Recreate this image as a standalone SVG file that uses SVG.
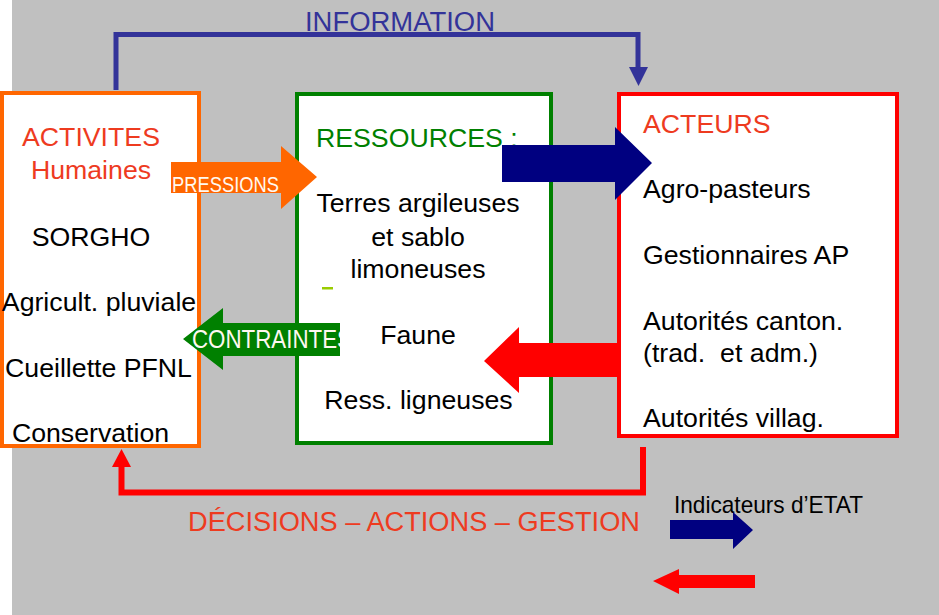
<svg xmlns="http://www.w3.org/2000/svg" width="939" height="615" viewBox="0 0 939 615">
<style>
text{font-family:"Liberation Sans",Arial,sans-serif;font-size:26.7px;fill:#000}
.red{fill:#ee3b1f}
.grn{fill:#008000}
.mid{text-anchor:middle}
.wht{fill:#fff8f0}
.box{fill:#fff;stroke-width:4}
</style>
<defs>
<clipPath id="cc"><rect x="180" y="300" width="160" height="80"/></clipPath>
</defs>
<rect x="0" y="0" width="939" height="615" fill="#fff"/>
<rect x="12" y="0" width="927" height="615" fill="#c0c0c0"/>

<g id="activites">
<rect class="box" x="2" y="93" width="197" height="353" stroke="#ff6600"/>
<text class="red mid" x="91" y="146">ACTIVITES</text>
<text class="red mid" x="91" y="179">Humaines</text>
<text class="mid" x="91" y="246">SORGHO</text>
<text class="mid" x="99" y="311">Agricult. pluviale</text>
<text class="mid" x="98.5" y="377">Cueillette PFNL</text>
<text class="mid" x="90.5" y="442">Conservation</text>
</g>

<g id="ressources">
<rect class="box" x="297" y="94" width="254" height="349" stroke="#008000"/>
<text class="grn" x="316" y="147">RESSOURCES :</text>
<text class="mid" x="418" y="212">Terres argileuses</text>
<text class="mid" x="418" y="246">et sablo</text>
<text class="mid" x="418" y="278">limoneuses</text>
<rect x="322" y="287" width="11" height="2.5" fill="#99cc00"/>
<text class="mid" x="418" y="344">Faune</text>
<text class="mid" x="418.5" y="409">Ress. ligneuses</text>
</g>

<g id="acteurs">
<rect class="box" x="619" y="94" width="278" height="342" stroke="#ff0000"/>
<text class="red" x="643" y="133">ACTEURS</text>
<text x="643" y="198">Agro-pasteurs</text>
<text x="643" y="264">Gestionnaires AP</text>
<text x="643" y="330">Autorités canton.</text>
<text x="643" y="362" xml:space="preserve">(trad.  et adm.)</text>
<text x="643" y="427">Autorités villag.</text>
</g>

<g id="connectors">
<path d="M116,90 V34.5 H638 V70" fill="none" stroke="#333399" stroke-width="5"/>
<polygon points="629,67 648,67 638.5,86" fill="#333399"/>
<text x="305" y="31" fill="#333399" style="fill:#333399;font-size:27px" textLength="190" lengthAdjust="spacingAndGlyphs">INFORMATION</text>

<path d="M643,447 V492.5 H121.5 V465" fill="none" stroke="#ff0000" stroke-width="6"/>
<polygon points="112,467 131,467 121.5,449" fill="#ff0000"/>
<text class="red" x="188" y="531" style="font-size:27px" textLength="452" lengthAdjust="spacingAndGlyphs">DÉCISIONS – ACTIONS – GESTION</text>

<polygon points="171,162 281,162 281,146 317,177 281,209 281,193 171,193" fill="#ff6600"/>
<text class="wht" x="172" y="192" style="font-size:22px" textLength="107" lengthAdjust="spacingAndGlyphs">PRESSIONS</text>

<polygon points="340,323 223,323 223,308 183,339 223,370 223,356 340,356" fill="#008000"/>
<g clip-path="url(#cc)">
<text class="wht" x="192" y="348" style="font-size:26px" textLength="160" lengthAdjust="spacingAndGlyphs">CONTRAINTES</text>
</g>

<polygon points="502,145 615,145 615,127 652,163 615,200 615,182 502,182" fill="#000080"/>
<polygon points="620,343 519,343 519,327 484,361 519,393 519,377 620,377" fill="#ff0000"/>

<text x="674" y="513" style="font-size:24px" textLength="189" lengthAdjust="spacingAndGlyphs">Indicateurs d’ETAT</text>
<polygon points="670,520 733,520 733,512 753,530 733,549 733,539 670,539" fill="#000080"/>
<polygon points="755,575 679,575 679,569 653,581 679,594 679,588 755,588" fill="#ff0000"/>
</g>
</svg>
